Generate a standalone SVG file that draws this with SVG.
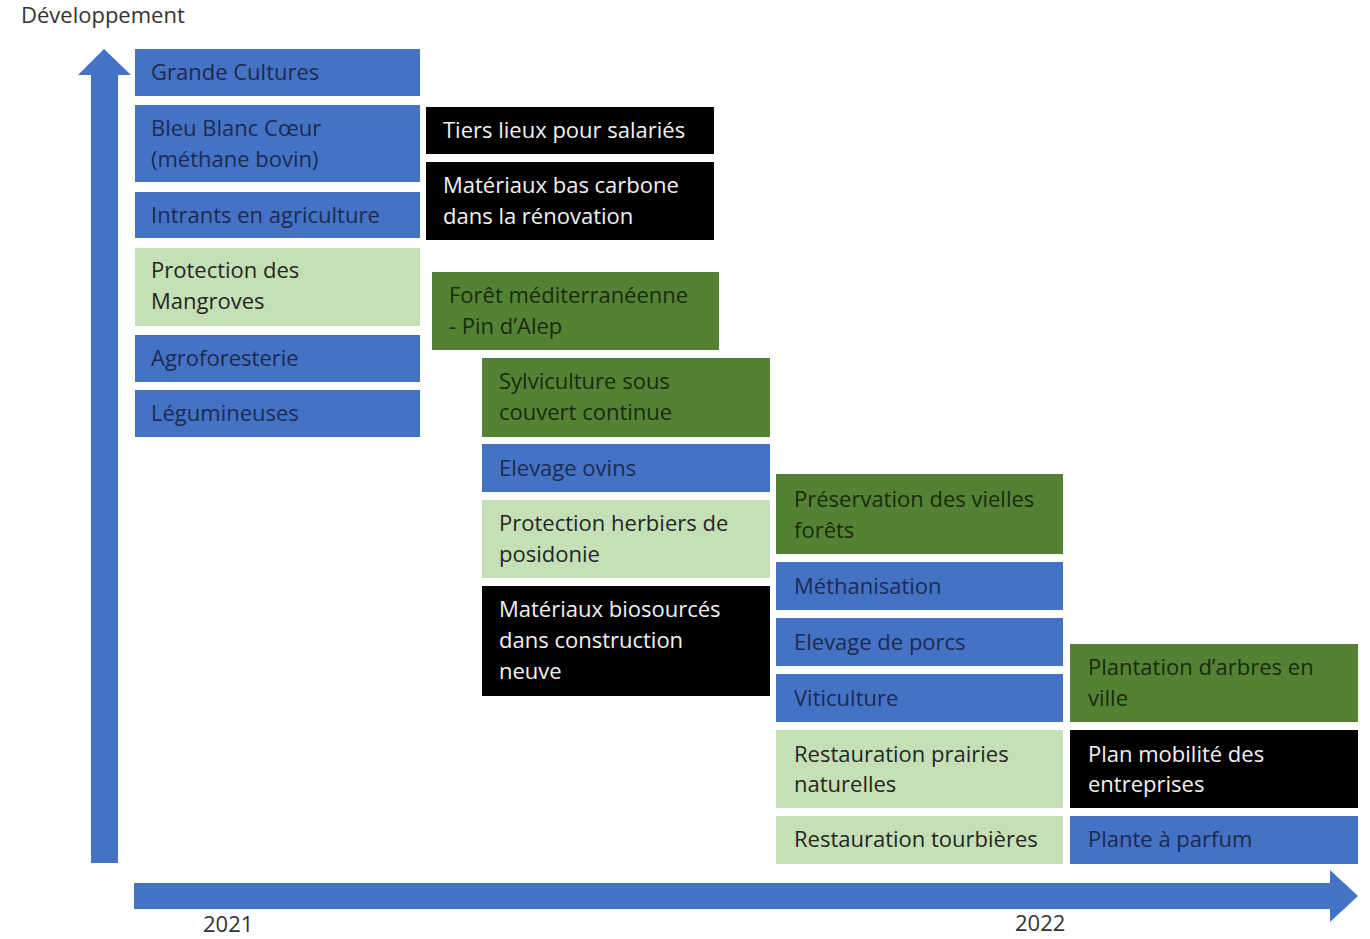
<svg xmlns="http://www.w3.org/2000/svg" width="1370" height="939" viewBox="0 0 1370 939">
<style>
text{font-family:"Open Sans","Liberation Sans",sans-serif;font-size:22px}
.b rect{fill:#4472C4}
.b text{fill:#1C2B50}
.d rect{fill:#548235}
.d text{fill:#182C0C}
.l rect{fill:#C5E0B4}
.l text{fill:#262626}
.k rect{fill:#000}
.k text{fill:#F2F2F2}
.ax{fill:#4472C4}
.lab{fill:#333}
</style>
<rect width="1370" height="939" fill="#fff"/>
<g id="axes">
<polygon class="ax" points="91,863 118,863 118,75 131,75 104,49 78,75 91,75"/>
<polygon class="ax" points="134,883 1330,883 1330,870 1358,896 1330,922 1330,909 134,909"/>
</g>
<text class="lab" x="21" y="23" font-size="21">Développement</text>
<text class="lab" x="203" y="932" font-size="21">2021</text>
<text class="lab" x="1015" y="931" font-size="21">2022</text>
<g id="connectors"></g>
<g id="n1" class="b"><rect x="135" y="49" width="285" height="47"/><text x="151" y="80">Grande Cultures</text></g>
<g id="n2" class="b"><rect x="135" y="105" width="285" height="77"/><text x="151" y="136">Bleu Blanc Cœur</text><text x="151" y="167">(méthane bovin)</text></g>
<g id="n3" class="b"><rect x="135" y="192" width="285" height="46"/><text x="151" y="223">Intrants en agriculture</text></g>
<g id="n4" class="l"><rect x="135" y="248" width="285" height="78"/><text x="151" y="278">Protection des</text><text x="151" y="309">Mangroves</text></g>
<g id="n5" class="b"><rect x="135" y="335" width="285" height="47"/><text x="151" y="366">Agroforesterie</text></g>
<g id="n6" class="b"><rect x="135" y="390" width="285" height="47"/><text x="151" y="421">Légumineuses</text></g>
<g id="n7" class="k"><rect x="426" y="107" width="288" height="47"/><text x="443" y="138">Tiers lieux pour salariés</text></g>
<g id="n8" class="k"><rect x="426" y="162" width="288" height="78"/><text x="443" y="193">Matériaux bas carbone</text><text x="443" y="224">dans la rénovation</text></g>
<g id="n9" class="d"><rect x="432" y="272" width="287" height="78"/><text x="449" y="303">Forêt méditerranéenne</text><text x="449" y="334">- Pin d’Alep</text></g>
<g id="n10" class="d"><rect x="482" y="358" width="288" height="79"/><text x="499" y="389">Sylviculture sous</text><text x="499" y="420">couvert continue</text></g>
<g id="n11" class="b"><rect x="482" y="444" width="288" height="48"/><text x="499" y="476">Elevage ovins</text></g>
<g id="n12" class="l"><rect x="482" y="500" width="288" height="78"/><text x="499" y="531">Protection herbiers de</text><text x="499" y="562">posidonie</text></g>
<g id="n13" class="k"><rect x="482" y="586" width="288" height="110"/><text x="499" y="617">Matériaux biosourcés</text><text x="499" y="648">dans construction</text><text x="499" y="679">neuve</text></g>
<g id="n14" class="d"><rect x="776" y="474" width="287" height="80"/><text x="794" y="507">Préservation des vielles</text><text x="794" y="538">forêts</text></g>
<g id="n15" class="b"><rect x="776" y="562" width="287" height="48"/><text x="794" y="594">Méthanisation</text></g>
<g id="n16" class="b"><rect x="776" y="618" width="287" height="48"/><text x="794" y="650">Elevage de porcs</text></g>
<g id="n17" class="b"><rect x="776" y="674" width="287" height="48"/><text x="794" y="706">Viticulture</text></g>
<g id="n18" class="l"><rect x="776" y="730" width="287" height="78"/><text x="794" y="762">Restauration prairies</text><text x="794" y="792">naturelles</text></g>
<g id="n19" class="l"><rect x="776" y="816" width="287" height="48"/><text x="794" y="847">Restauration tourbières</text></g>
<g id="n20" class="d"><rect x="1070" y="644" width="288" height="78"/><text x="1088" y="675">Plantation d’arbres en</text><text x="1088" y="706">ville</text></g>
<g id="n21" class="k"><rect x="1070" y="730" width="288" height="78"/><text x="1088" y="762">Plan mobilité des</text><text x="1088" y="792">entreprises</text></g>
<g id="n22" class="b"><rect x="1070" y="816" width="288" height="48"/><text x="1088" y="847">Plante à parfum</text></g>
</svg>
